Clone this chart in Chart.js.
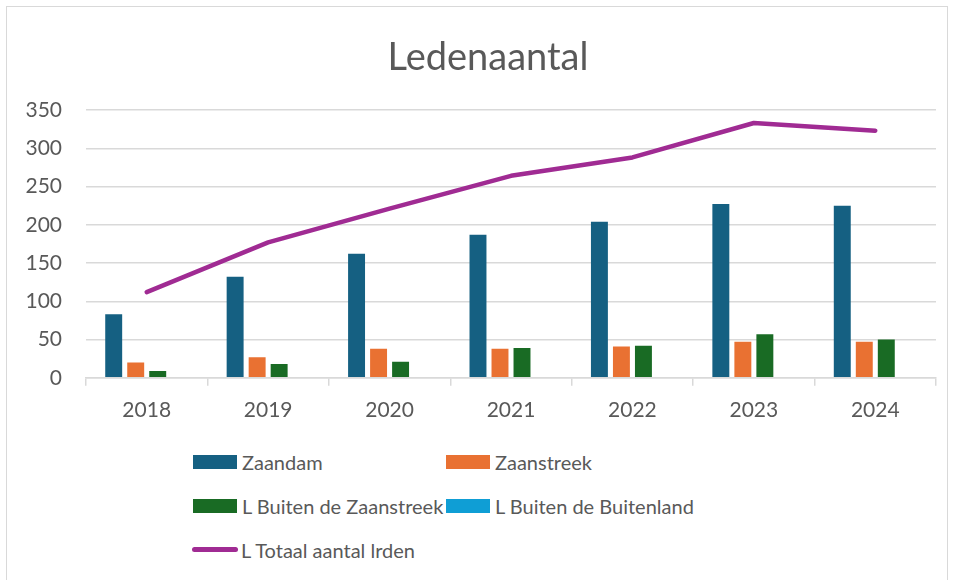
<!DOCTYPE html>
<html>
<head>
<meta charset="utf-8">
<script src="https://cdn.jsdelivr.net/npm/chart.js@4.4.1/dist/chart.umd.min.js"></script>
<style>
  body { margin: 0; background: #fff; font-family: Lato, sans-serif; }
  #wrap { position: relative; width: 954px; height: 580px; overflow: hidden; }
  #frame { position: absolute; left: 6px; top: 6px; width: 940px; height: 600px; border: 1px solid #d9d9d9; }
  #chartBox { position: absolute; left: 0; top: 0; width: 954px; height: 440px; }
  #title { position: absolute; left: 288px; width: 400px; top: 32px; text-align: center; font-size: 38px; line-height: 46px; color: #595959; }
  .lg { position: absolute; font-size: 20px; color: #595959; line-height: 24px; white-space: nowrap; }
  .lg .sw { position: absolute; left: 0; top: 5px; width: 44px; height: 14px; }
  .lg .ln { position: absolute; left: 0; top: 9px; width: 46px; height: 5px; border-radius: 3px; }
  .lg span.t { position: absolute; left: 49px; top: 0; }
</style>
</head>
<body>
<div id="wrap">
  <div id="frame"></div>
  <div id="chartBox"><canvas id="ledenChart"></canvas></div>
  <div id="title">Ledenaantal</div>
  <div id="legend"></div>
</div>
<script>
// Ledenaantal data
const years = ['2018', '2019', '2020', '2021', '2022', '2023', '2024'];
const zaandam = [83, 132, 162, 187, 204, 227, 225];
const zaanstreek = [20, 27, 38, 38, 41, 47, 47];
const buitenZaanstreek = [9, 18, 21, 39, 42, 57, 50];
const buitenland = [0, 0, 0, 0, 1, 1, 0];
const totaal = [112, 177, 221, 264, 288, 333, 323];
const yTicks = [0, 50, 100, 150, 200, 250, 300, 350];

const textColor = '#595959';
const gridColor = '#d9d9d9';
const fontFam = "Lato, sans-serif";

const datasets = [
  { type: 'line', label: 'L Totaal aantal lrden', data: totaal, borderColor: '#A02B93', backgroundColor: '#A02B93',
    borderWidth: 4.5, pointRadius: 0, borderCapStyle: 'round', borderJoinStyle: 'round', tension: 0, order: 0 },
  { label: 'Zaandam', data: zaandam, backgroundColor: '#156082', order: 1 },
  { label: 'Zaanstreek', data: zaanstreek, backgroundColor: '#E97132', order: 1 },
  { label: 'L Buiten de Zaanstreek', data: buitenZaanstreek, backgroundColor: '#196B24', order: 1 },
  { label: 'L Buiten de Buitenland', data: buitenland, backgroundColor: '#0F9ED5', order: 1 }
];

const ctx = document.getElementById('ledenChart').getContext('2d');
const chart = new Chart(ctx, {
  type: 'bar',
  data: { labels: years, datasets: datasets },
  options: {
    responsive: true, maintainAspectRatio: false, animation: false,
    datasets: { bar: { categoryPercentage: 0.725, barPercentage: 0.77 } },
    layout: { padding: { left: 0, right: 18, top: 110, bottom: 5 } },
    plugins: {
      legend: { display: false },
      tooltip: { enabled: false },
      title: { display: false }
    },
    scales: {
      x: {
        offset: true,
        grid: { display: true, drawOnChartArea: false, offset: true, color: gridColor, tickLength: 8, lineWidth: 1.5 },
        border: { display: true, color: gridColor, width: 1.5 },
        ticks: { color: textColor, font: { family: fontFam, size: 21 }, padding: 12 }
      },
      y: {
        min: 0, max: 350,
        afterBuildTicks: (axis) => { axis.ticks = yTicks.map(v => ({ value: v })); },
        afterFit: (axis) => { axis.width = 86; },
        grid: { color: gridColor, lineWidth: 1.5, drawTicks: false },
        border: { display: false },
        ticks: { color: textColor, font: { family: fontFam, size: 21 }, padding: 24 }
      }
    }
  }
});

// Legend laid out in two columns like the original
const legendPos = [
  { ds: 1, x: 193, y: 450 },
  { ds: 2, x: 446, y: 450 },
  { ds: 3, x: 193, y: 494 },
  { ds: 4, x: 446, y: 494 },
  { ds: 0, x: 192, y: 538 }
];
let html = '';
legendPos.forEach(p => {
  const d = datasets[p.ds];
  const mark = d.type === 'line'
    ? `<div class="ln" style="background:${d.borderColor}"></div>`
    : `<div class="sw" style="background:${d.backgroundColor}"></div>`;
  html += `<div class="lg" style="left:${p.x}px;top:${p.y}px">${mark}<span class="t">${d.label}</span></div>`;
});
document.getElementById('legend').innerHTML = html;
</script>
</body>
</html>
